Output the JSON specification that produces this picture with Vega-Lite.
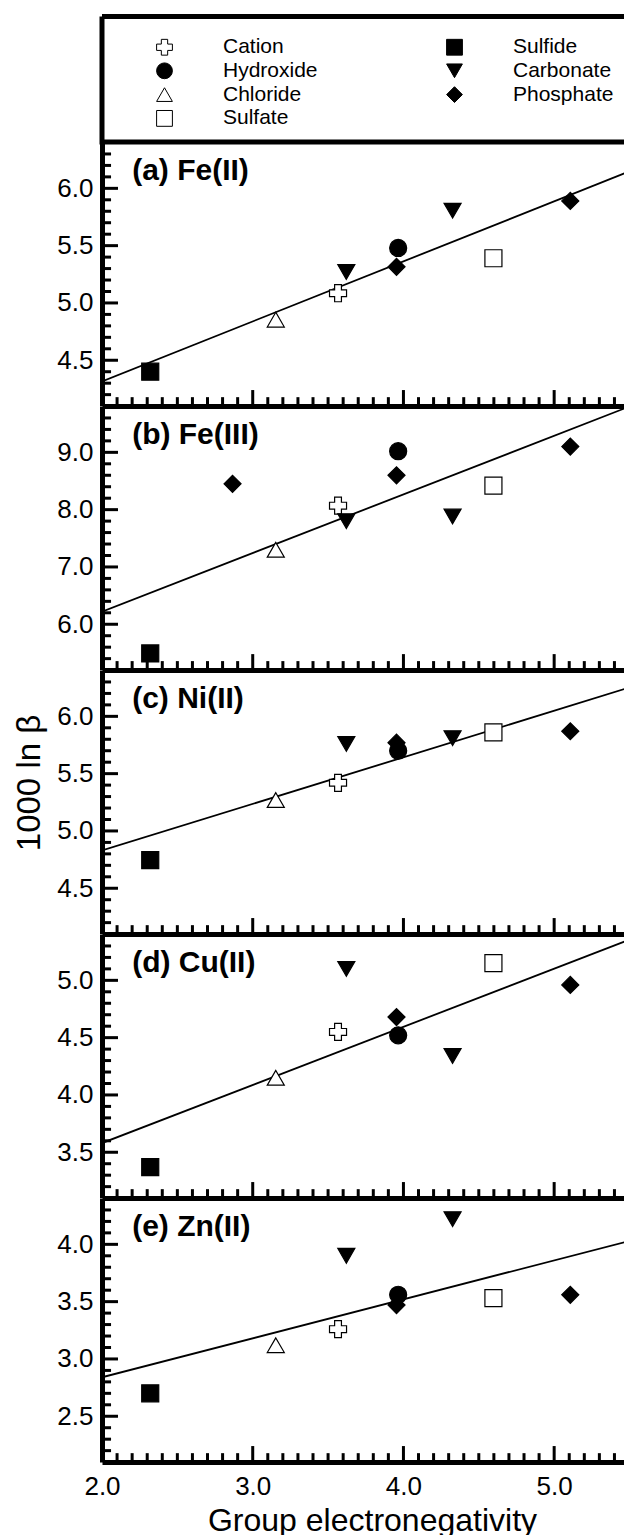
{
  "$schema": "https://vega.github.io/schema/vega-lite/v6.json",
  "background": "white",
  "padding": {"left": 13, "top": 13.5, "right": 0, "bottom": 0},
  "config": {
    "font": "Liberation Sans",
    "view": {"stroke": null},
    "axis": {"domainColor": "black", "domainWidth": 5, "ticks": false, "labelColor": "black", "labelFont": "Liberation Sans", "labelFontSize": 26, "titleFont": "Liberation Sans", "titleFontSize": 30, "titleFontWeight": "normal", "titleColor": "black", "grid": false, "labelOverlap": false, "labelFlush": false}
  },
  "datasets": {
    "pts": [
      {"p": "a", "type": "Sulfide", "en": 2.32, "val": 4.40},
      {"p": "a", "type": "Chloride", "en": 3.153, "val": 4.854},
      {"p": "a", "type": "Cation", "en": 3.566, "val": 5.085},
      {"p": "a", "type": "Carbonate", "en": 3.621, "val": 5.27},
      {"p": "a", "type": "Hydroxide", "en": 3.965, "val": 5.48},
      {"p": "a", "type": "Phosphate", "en": 3.954, "val": 5.315},
      {"p": "a", "type": "Carbonate", "en": 4.326, "val": 5.805},
      {"p": "a", "type": "Sulfate", "en": 4.597, "val": 5.39},
      {"p": "a", "type": "Phosphate", "en": 5.107, "val": 5.89},
      {"p": "b", "type": "Sulfide", "en": 2.32, "val": 5.49},
      {"p": "b", "type": "Phosphate", "en": 2.866, "val": 8.45},
      {"p": "b", "type": "Chloride", "en": 3.153, "val": 7.3},
      {"p": "b", "type": "Cation", "en": 3.566, "val": 8.07},
      {"p": "b", "type": "Carbonate", "en": 3.621, "val": 7.8},
      {"p": "b", "type": "Hydroxide", "en": 3.965, "val": 9.02},
      {"p": "b", "type": "Phosphate", "en": 3.954, "val": 8.6},
      {"p": "b", "type": "Carbonate", "en": 4.326, "val": 7.88},
      {"p": "b", "type": "Sulfate", "en": 4.597, "val": 8.42},
      {"p": "b", "type": "Phosphate", "en": 5.107, "val": 9.1},
      {"p": "c", "type": "Sulfide", "en": 2.32, "val": 4.745},
      {"p": "c", "type": "Chloride", "en": 3.153, "val": 5.27},
      {"p": "c", "type": "Cation", "en": 3.566, "val": 5.42},
      {"p": "c", "type": "Carbonate", "en": 3.621, "val": 5.76},
      {"p": "c", "type": "Hydroxide", "en": 3.965, "val": 5.70},
      {"p": "c", "type": "Phosphate", "en": 3.954, "val": 5.77},
      {"p": "c", "type": "Carbonate", "en": 4.326, "val": 5.81},
      {"p": "c", "type": "Sulfate", "en": 4.597, "val": 5.86},
      {"p": "c", "type": "Phosphate", "en": 5.107, "val": 5.87},
      {"p": "d", "type": "Sulfide", "en": 2.32, "val": 3.37},
      {"p": "d", "type": "Chloride", "en": 3.153, "val": 4.15},
      {"p": "d", "type": "Cation", "en": 3.566, "val": 4.55},
      {"p": "d", "type": "Carbonate", "en": 3.621, "val": 5.1},
      {"p": "d", "type": "Hydroxide", "en": 3.965, "val": 4.52},
      {"p": "d", "type": "Phosphate", "en": 3.954, "val": 4.68},
      {"p": "d", "type": "Carbonate", "en": 4.326, "val": 4.34},
      {"p": "d", "type": "Sulfate", "en": 4.597, "val": 5.15},
      {"p": "d", "type": "Phosphate", "en": 5.107, "val": 4.96},
      {"p": "e", "type": "Sulfide", "en": 2.32, "val": 2.70},
      {"p": "e", "type": "Chloride", "en": 3.153, "val": 3.12},
      {"p": "e", "type": "Cation", "en": 3.566, "val": 3.26},
      {"p": "e", "type": "Carbonate", "en": 3.621, "val": 3.9},
      {"p": "e", "type": "Hydroxide", "en": 3.965, "val": 3.56},
      {"p": "e", "type": "Phosphate", "en": 3.954, "val": 3.47},
      {"p": "e", "type": "Carbonate", "en": 4.326, "val": 4.22},
      {"p": "e", "type": "Sulfate", "en": 4.597, "val": 3.53},
      {"p": "e", "type": "Phosphate", "en": 5.107, "val": 3.56}
    ],
    "fit": [
      {"p": "a", "en": 2.0, "val": 4.315}, {"p": "a", "en": 5.47, "val": 6.133},
      {"p": "b", "en": 2.0, "val": 6.22}, {"p": "b", "en": 5.47, "val": 9.77},
      {"p": "c", "en": 2.0, "val": 4.83}, {"p": "c", "en": 5.47, "val": 6.24},
      {"p": "d", "en": 2.0, "val": 3.58}, {"p": "d", "en": 5.47, "val": 5.34},
      {"p": "e", "en": 2.0, "val": 2.84}, {"p": "e", "en": 5.47, "val": 4.02}
    ],
    "xt": [
      {"v": 2.1, "major": false}, {"v": 2.2, "major": false}, {"v": 2.3, "major": false}, {"v": 2.4, "major": false}, {"v": 2.5, "major": false}, {"v": 2.6, "major": false}, {"v": 2.7, "major": false}, {"v": 2.8, "major": false}, {"v": 2.9, "major": false},
      {"v": 3.0, "major": true}, {"v": 3.1, "major": false}, {"v": 3.2, "major": false}, {"v": 3.3, "major": false}, {"v": 3.4, "major": false}, {"v": 3.5, "major": false}, {"v": 3.6, "major": false}, {"v": 3.7, "major": false}, {"v": 3.8, "major": false}, {"v": 3.9, "major": false},
      {"v": 4.0, "major": true}, {"v": 4.1, "major": false}, {"v": 4.2, "major": false}, {"v": 4.3, "major": false}, {"v": 4.4, "major": false}, {"v": 4.5, "major": false}, {"v": 4.6, "major": false}, {"v": 4.7, "major": false}, {"v": 4.8, "major": false}, {"v": 4.9, "major": false},
      {"v": 5.0, "major": true}, {"v": 5.1, "major": false}, {"v": 5.2, "major": false}, {"v": 5.3, "major": false}, {"v": 5.4, "major": false}
    ],
    "yt": [
      {"p": "a", "v": 4.2, "major": false}, {"p": "a", "v": 4.3, "major": false}, {"p": "a", "v": 4.4, "major": false}, {"p": "a", "v": 4.5, "major": true}, {"p": "a", "v": 4.6, "major": false}, {"p": "a", "v": 4.7, "major": false}, {"p": "a", "v": 4.8, "major": false}, {"p": "a", "v": 4.9, "major": false}, {"p": "a", "v": 5.0, "major": true}, {"p": "a", "v": 5.1, "major": false}, {"p": "a", "v": 5.2, "major": false}, {"p": "a", "v": 5.3, "major": false}, {"p": "a", "v": 5.4, "major": false}, {"p": "a", "v": 5.5, "major": true}, {"p": "a", "v": 5.6, "major": false}, {"p": "a", "v": 5.7, "major": false}, {"p": "a", "v": 5.8, "major": false}, {"p": "a", "v": 5.9, "major": false}, {"p": "a", "v": 6.0, "major": true}, {"p": "a", "v": 6.1, "major": false}, {"p": "a", "v": 6.2, "major": false}, {"p": "a", "v": 6.3, "major": false},
      {"p": "b", "v": 5.4, "major": false}, {"p": "b", "v": 5.6, "major": false}, {"p": "b", "v": 5.8, "major": false}, {"p": "b", "v": 6.0, "major": true}, {"p": "b", "v": 6.2, "major": false}, {"p": "b", "v": 6.4, "major": false}, {"p": "b", "v": 6.6, "major": false}, {"p": "b", "v": 6.8, "major": false}, {"p": "b", "v": 7.0, "major": true}, {"p": "b", "v": 7.2, "major": false}, {"p": "b", "v": 7.4, "major": false}, {"p": "b", "v": 7.6, "major": false}, {"p": "b", "v": 7.8, "major": false}, {"p": "b", "v": 8.0, "major": true}, {"p": "b", "v": 8.2, "major": false}, {"p": "b", "v": 8.4, "major": false}, {"p": "b", "v": 8.6, "major": false}, {"p": "b", "v": 8.8, "major": false}, {"p": "b", "v": 9.0, "major": true}, {"p": "b", "v": 9.2, "major": false}, {"p": "b", "v": 9.4, "major": false}, {"p": "b", "v": 9.6, "major": false},
      {"p": "c", "v": 4.2, "major": false}, {"p": "c", "v": 4.3, "major": false}, {"p": "c", "v": 4.4, "major": false}, {"p": "c", "v": 4.5, "major": true}, {"p": "c", "v": 4.6, "major": false}, {"p": "c", "v": 4.7, "major": false}, {"p": "c", "v": 4.8, "major": false}, {"p": "c", "v": 4.9, "major": false}, {"p": "c", "v": 5.0, "major": true}, {"p": "c", "v": 5.1, "major": false}, {"p": "c", "v": 5.2, "major": false}, {"p": "c", "v": 5.3, "major": false}, {"p": "c", "v": 5.4, "major": false}, {"p": "c", "v": 5.5, "major": true}, {"p": "c", "v": 5.6, "major": false}, {"p": "c", "v": 5.7, "major": false}, {"p": "c", "v": 5.8, "major": false}, {"p": "c", "v": 5.9, "major": false}, {"p": "c", "v": 6.0, "major": true}, {"p": "c", "v": 6.1, "major": false}, {"p": "c", "v": 6.2, "major": false}, {"p": "c", "v": 6.3, "major": false},
      {"p": "d", "v": 3.2, "major": false}, {"p": "d", "v": 3.3, "major": false}, {"p": "d", "v": 3.4, "major": false}, {"p": "d", "v": 3.5, "major": true}, {"p": "d", "v": 3.6, "major": false}, {"p": "d", "v": 3.7, "major": false}, {"p": "d", "v": 3.8, "major": false}, {"p": "d", "v": 3.9, "major": false}, {"p": "d", "v": 4.0, "major": true}, {"p": "d", "v": 4.1, "major": false}, {"p": "d", "v": 4.2, "major": false}, {"p": "d", "v": 4.3, "major": false}, {"p": "d", "v": 4.4, "major": false}, {"p": "d", "v": 4.5, "major": true}, {"p": "d", "v": 4.6, "major": false}, {"p": "d", "v": 4.7, "major": false}, {"p": "d", "v": 4.8, "major": false}, {"p": "d", "v": 4.9, "major": false}, {"p": "d", "v": 5.0, "major": true}, {"p": "d", "v": 5.1, "major": false}, {"p": "d", "v": 5.2, "major": false}, {"p": "d", "v": 5.3, "major": false},
      {"p": "e", "v": 2.2, "major": false}, {"p": "e", "v": 2.3, "major": false}, {"p": "e", "v": 2.4, "major": false}, {"p": "e", "v": 2.5, "major": true}, {"p": "e", "v": 2.6, "major": false}, {"p": "e", "v": 2.7, "major": false}, {"p": "e", "v": 2.8, "major": false}, {"p": "e", "v": 2.9, "major": false}, {"p": "e", "v": 3.0, "major": true}, {"p": "e", "v": 3.1, "major": false}, {"p": "e", "v": 3.2, "major": false}, {"p": "e", "v": 3.3, "major": false}, {"p": "e", "v": 3.4, "major": false}, {"p": "e", "v": 3.5, "major": true}, {"p": "e", "v": 3.6, "major": false}, {"p": "e", "v": 3.7, "major": false}, {"p": "e", "v": 3.8, "major": false}, {"p": "e", "v": 3.9, "major": false}, {"p": "e", "v": 4.0, "major": true}, {"p": "e", "v": 4.1, "major": false}, {"p": "e", "v": 4.2, "major": false}, {"p": "e", "v": 4.3, "major": false}
    ]
  },
  "spacing": 0,
  "bounds": "flush",
  "resolve": {"scale": {"x": "independent", "y": "independent", "shape": "independent", "fill": "independent", "stroke": "independent"}, "legend": {"shape": "independent", "fill": "independent", "stroke": "independent"}},
  "vconcat": [
    {
      "width": 523, "height": 125.4,
      "view": {"stroke": "black", "strokeWidth": 5, "strokeDash": [523, 125.4, 648.4, 0]},
      "data": {"values": [{}]},
      "mark": {"type": "text", "text": ""},
      "encoding": {}
    },
    {
      "width": 523, "height": 263.6,
      "layer": [
        {"data": {"name": "fit"}, "transform": [{"filter": "datum.p == 'a'"}],
         "mark": {"type": "line", "color": "black", "strokeWidth": 1.8, "clip": true},
         "encoding": {
           "x": {"field": "en", "type": "quantitative", "scale": {"domain": [2, 5.47], "nice": false, "zero": false},
                 "axis": {"values": [2, 3, 4, 5], "labels": false, "title": null}},
           "y": {"field": "val", "type": "quantitative", "scale": {"domain": [4.1, 6.4], "nice": false, "zero": false},
                 "axis": {"values": [4.5, 5, 5.5, 6], "format": ".1f", "title": null, "labelPadding": 9}}
         }},
        {"data": {"name": "yt"}, "transform": [{"filter": "datum.p == 'a' && datum.major"}],
         "mark": {"type": "rule", "strokeWidth": 3, "color": "black", "opacity": 1},
         "encoding": {"y": {"field": "v", "type": "quantitative"}, "x": {"datum": 2.0}, "x2": {"datum": 2.106}}},
        {"data": {"name": "yt"}, "transform": [{"filter": "datum.p == 'a' && !datum.major"}],
         "mark": {"type": "rule", "strokeWidth": 3, "color": "black", "opacity": 1},
         "encoding": {"y": {"field": "v", "type": "quantitative"}, "x": {"datum": 2.0}, "x2": {"datum": 2.06}}},
        {"data": {"name": "xt"}, "transform": [{"filter": "datum.major"}],
         "mark": {"type": "rule", "strokeWidth": 3, "color": "black", "opacity": 1},
         "encoding": {"x": {"field": "v", "type": "quantitative"}, "y": {"datum": 4.1}, "y2": {"datum": 4.24}}},
        {"data": {"name": "xt"}, "transform": [{"filter": "!datum.major"}],
         "mark": {"type": "rule", "strokeWidth": 3, "color": "black", "opacity": 1},
         "encoding": {"x": {"field": "v", "type": "quantitative"}, "y": {"datum": 4.1}, "y2": {"datum": 4.178}}},
        {"data": {"name": "pts"}, "transform": [{"filter": "datum.p == 'a'"}],
         "mark": {"type": "point", "filled": true, "strokeWidth": 1.2, "size": 290, "opacity": 1},
         "encoding": {
           "x": {"field": "en", "type": "quantitative"},
           "y": {"field": "val", "type": "quantitative"},
           "shape": {"field": "type", "type": "nominal",
                     "scale": {"domain": ["Cation", "Hydroxide", "Chloride", "Sulfate", "Sulfide", "Carbonate", "Phosphate"], "range": ["cross", "circle", "triangle-up", "square", "square", "triangle-down", "diamond"]},
                     "legend": {"orient": "none", "legendX": 52, "legendY": -106, "columns": 2, "title": null, "symbolSize": 250, "labelFontSize": 21, "labelFont": "Liberation Sans", "labelColor": "black", "labelOffset": 48, "columnPadding": 126, "rowPadding": 1.8, "symbolStrokeWidth": 1, "padding": 0}},
           "fill": {"field": "type", "type": "nominal",
                    "scale": {"domain": ["Cation", "Hydroxide", "Chloride", "Sulfate", "Sulfide", "Carbonate", "Phosphate"], "range": ["white", "black", "white", "white", "black", "black", "black"]},
                    "legend": {"orient": "none", "legendX": 52, "legendY": -106, "columns": 2, "title": null, "symbolSize": 250, "labelFontSize": 21, "labelFont": "Liberation Sans", "labelColor": "black", "labelOffset": 48, "columnPadding": 126, "rowPadding": 1.8, "symbolStrokeWidth": 1, "padding": 0}},
           "stroke": {"field": "type", "type": "nominal",
                    "scale": {"domain": ["Cation", "Hydroxide", "Chloride", "Sulfate", "Sulfide", "Carbonate", "Phosphate"], "range": ["black", "black", "black", "black", "black", "black", "black"]},
                    "legend": {"orient": "none", "legendX": 52, "legendY": -106, "columns": 2, "title": null, "symbolSize": 250, "labelFontSize": 21, "labelFont": "Liberation Sans", "labelColor": "black", "labelOffset": 48, "columnPadding": 126, "rowPadding": 1.8, "symbolStrokeWidth": 1, "padding": 0}}
         }},
        {"data": {"values": [{"label": "(a) Fe(II)"}]},
         "mark": {"type": "text", "font": "Liberation Sans", "fontSize": 30, "fontWeight": "bold", "align": "left", "baseline": "middle", "color": "black"},
         "encoding": {"text": {"field": "label"}, "x": {"datum": 2.2}, "y": {"datum": 6.155}}}
      ]
    },
    {
      "width": 523, "height": 263.6,
      "layer": [
        {"data": {"name": "fit"}, "transform": [{"filter": "datum.p == 'b'"}],
         "mark": {"type": "line", "color": "black", "strokeWidth": 1.8, "clip": true},
         "encoding": {
           "x": {"field": "en", "type": "quantitative", "scale": {"domain": [2, 5.47], "nice": false, "zero": false},
                 "axis": {"values": [2, 3, 4, 5], "labels": false, "title": null}},
           "y": {"field": "val", "type": "quantitative", "scale": {"domain": [5.2, 9.8], "nice": false, "zero": false},
                 "axis": {"values": [6, 7, 8, 9], "format": ".1f", "title": null, "labelPadding": 9}}
         }},
        {"data": {"name": "yt"}, "transform": [{"filter": "datum.p == 'b' && datum.major"}],
         "mark": {"type": "rule", "strokeWidth": 3, "color": "black", "opacity": 1},
         "encoding": {"y": {"field": "v", "type": "quantitative"}, "x": {"datum": 2.0}, "x2": {"datum": 2.106}}},
        {"data": {"name": "yt"}, "transform": [{"filter": "datum.p == 'b' && !datum.major"}],
         "mark": {"type": "rule", "strokeWidth": 3, "color": "black", "opacity": 1},
         "encoding": {"y": {"field": "v", "type": "quantitative"}, "x": {"datum": 2.0}, "x2": {"datum": 2.06}}},
        {"data": {"name": "xt"}, "transform": [{"filter": "datum.major"}],
         "mark": {"type": "rule", "strokeWidth": 3, "color": "black", "opacity": 1},
         "encoding": {"x": {"field": "v", "type": "quantitative"}, "y": {"datum": 5.2}, "y2": {"datum": 5.479}}},
        {"data": {"name": "xt"}, "transform": [{"filter": "!datum.major"}],
         "mark": {"type": "rule", "strokeWidth": 3, "color": "black", "opacity": 1},
         "encoding": {"x": {"field": "v", "type": "quantitative"}, "y": {"datum": 5.2}, "y2": {"datum": 5.357}}},
        {"data": {"name": "pts"}, "transform": [{"filter": "datum.p == 'b'"}],
         "mark": {"type": "point", "filled": true, "stroke": "black", "strokeWidth": 1.2, "size": 290, "opacity": 1},
         "encoding": {
           "x": {"field": "en", "type": "quantitative"},
           "y": {"field": "val", "type": "quantitative"},
           "shape": {"field": "type", "type": "nominal", "legend": null,
                     "scale": {"domain": ["Cation", "Hydroxide", "Chloride", "Sulfate", "Sulfide", "Carbonate", "Phosphate"], "range": ["cross", "circle", "triangle-up", "square", "square", "triangle-down", "diamond"]}},
           "fill": {"field": "type", "type": "nominal", "legend": null,
                    "scale": {"domain": ["Cation", "Hydroxide", "Chloride", "Sulfate", "Sulfide", "Carbonate", "Phosphate"], "range": ["white", "black", "white", "white", "black", "black", "black"]}}
         }},
        {"data": {"values": [{"label": "(b) Fe(III)"}]},
         "mark": {"type": "text", "font": "Liberation Sans", "fontSize": 30, "fontWeight": "bold", "align": "left", "baseline": "middle", "color": "black"},
         "encoding": {"text": {"field": "label"}, "x": {"datum": 2.2}, "y": {"datum": 9.31}}}
      ]
    },
    {
      "width": 523, "height": 263.6,
      "layer": [
        {"data": {"name": "fit"}, "transform": [{"filter": "datum.p == 'c'"}],
         "mark": {"type": "line", "color": "black", "strokeWidth": 1.8, "clip": true},
         "encoding": {
           "x": {"field": "en", "type": "quantitative", "scale": {"domain": [2, 5.47], "nice": false, "zero": false},
                 "axis": {"values": [2, 3, 4, 5], "labels": false, "title": null}},
           "y": {"field": "val", "type": "quantitative", "scale": {"domain": [4.1, 6.4], "nice": false, "zero": false},
                 "axis": {"values": [4.5, 5, 5.5, 6], "format": ".1f", "labelPadding": 9,
                          "title": "1000 ln β", "titleX": -63, "titleY": 112, "titleBaseline": "alphabetic", "titleAngle": 270, "titleFontSize": 33}}
         }},
        {"data": {"name": "yt"}, "transform": [{"filter": "datum.p == 'c' && datum.major"}],
         "mark": {"type": "rule", "strokeWidth": 3, "color": "black", "opacity": 1},
         "encoding": {"y": {"field": "v", "type": "quantitative"}, "x": {"datum": 2.0}, "x2": {"datum": 2.106}}},
        {"data": {"name": "yt"}, "transform": [{"filter": "datum.p == 'c' && !datum.major"}],
         "mark": {"type": "rule", "strokeWidth": 3, "color": "black", "opacity": 1},
         "encoding": {"y": {"field": "v", "type": "quantitative"}, "x": {"datum": 2.0}, "x2": {"datum": 2.06}}},
        {"data": {"name": "xt"}, "transform": [{"filter": "datum.major"}],
         "mark": {"type": "rule", "strokeWidth": 3, "color": "black", "opacity": 1},
         "encoding": {"x": {"field": "v", "type": "quantitative"}, "y": {"datum": 4.1}, "y2": {"datum": 4.24}}},
        {"data": {"name": "xt"}, "transform": [{"filter": "!datum.major"}],
         "mark": {"type": "rule", "strokeWidth": 3, "color": "black", "opacity": 1},
         "encoding": {"x": {"field": "v", "type": "quantitative"}, "y": {"datum": 4.1}, "y2": {"datum": 4.178}}},
        {"data": {"name": "pts"}, "transform": [{"filter": "datum.p == 'c'"}],
         "mark": {"type": "point", "filled": true, "stroke": "black", "strokeWidth": 1.2, "size": 290, "opacity": 1},
         "encoding": {
           "x": {"field": "en", "type": "quantitative"},
           "y": {"field": "val", "type": "quantitative"},
           "shape": {"field": "type", "type": "nominal", "legend": null,
                     "scale": {"domain": ["Cation", "Hydroxide", "Chloride", "Sulfate", "Sulfide", "Carbonate", "Phosphate"], "range": ["cross", "circle", "triangle-up", "square", "square", "triangle-down", "diamond"]}},
           "fill": {"field": "type", "type": "nominal", "legend": null,
                    "scale": {"domain": ["Cation", "Hydroxide", "Chloride", "Sulfate", "Sulfide", "Carbonate", "Phosphate"], "range": ["white", "black", "white", "white", "black", "black", "black"]}}
         }},
        {"data": {"values": [{"label": "(c) Ni(II)"}]},
         "mark": {"type": "text", "font": "Liberation Sans", "fontSize": 30, "fontWeight": "bold", "align": "left", "baseline": "middle", "color": "black"},
         "encoding": {"text": {"field": "label"}, "x": {"datum": 2.2}, "y": {"datum": 6.155}}}
      ]
    },
    {
      "width": 523, "height": 263.6,
      "layer": [
        {"data": {"name": "fit"}, "transform": [{"filter": "datum.p == 'd'"}],
         "mark": {"type": "line", "color": "black", "strokeWidth": 1.8, "clip": true},
         "encoding": {
           "x": {"field": "en", "type": "quantitative", "scale": {"domain": [2, 5.47], "nice": false, "zero": false},
                 "axis": {"values": [2, 3, 4, 5], "labels": false, "title": null}},
           "y": {"field": "val", "type": "quantitative", "scale": {"domain": [3.1, 5.4], "nice": false, "zero": false},
                 "axis": {"values": [3.5, 4, 4.5, 5], "format": ".1f", "title": null, "labelPadding": 9}}
         }},
        {"data": {"name": "yt"}, "transform": [{"filter": "datum.p == 'd' && datum.major"}],
         "mark": {"type": "rule", "strokeWidth": 3, "color": "black", "opacity": 1},
         "encoding": {"y": {"field": "v", "type": "quantitative"}, "x": {"datum": 2.0}, "x2": {"datum": 2.106}}},
        {"data": {"name": "yt"}, "transform": [{"filter": "datum.p == 'd' && !datum.major"}],
         "mark": {"type": "rule", "strokeWidth": 3, "color": "black", "opacity": 1},
         "encoding": {"y": {"field": "v", "type": "quantitative"}, "x": {"datum": 2.0}, "x2": {"datum": 2.06}}},
        {"data": {"name": "xt"}, "transform": [{"filter": "datum.major"}],
         "mark": {"type": "rule", "strokeWidth": 3, "color": "black", "opacity": 1},
         "encoding": {"x": {"field": "v", "type": "quantitative"}, "y": {"datum": 3.1}, "y2": {"datum": 3.24}}},
        {"data": {"name": "xt"}, "transform": [{"filter": "!datum.major"}],
         "mark": {"type": "rule", "strokeWidth": 3, "color": "black", "opacity": 1},
         "encoding": {"x": {"field": "v", "type": "quantitative"}, "y": {"datum": 3.1}, "y2": {"datum": 3.178}}},
        {"data": {"name": "pts"}, "transform": [{"filter": "datum.p == 'd'"}],
         "mark": {"type": "point", "filled": true, "stroke": "black", "strokeWidth": 1.2, "size": 290, "opacity": 1},
         "encoding": {
           "x": {"field": "en", "type": "quantitative"},
           "y": {"field": "val", "type": "quantitative"},
           "shape": {"field": "type", "type": "nominal", "legend": null,
                     "scale": {"domain": ["Cation", "Hydroxide", "Chloride", "Sulfate", "Sulfide", "Carbonate", "Phosphate"], "range": ["cross", "circle", "triangle-up", "square", "square", "triangle-down", "diamond"]}},
           "fill": {"field": "type", "type": "nominal", "legend": null,
                    "scale": {"domain": ["Cation", "Hydroxide", "Chloride", "Sulfate", "Sulfide", "Carbonate", "Phosphate"], "range": ["white", "black", "white", "white", "black", "black", "black"]}}
         }},
        {"data": {"values": [{"label": "(d) Cu(II)"}]},
         "mark": {"type": "text", "font": "Liberation Sans", "fontSize": 30, "fontWeight": "bold", "align": "left", "baseline": "middle", "color": "black"},
         "encoding": {"text": {"field": "label"}, "x": {"datum": 2.2}, "y": {"datum": 5.155}}}
      ]
    },
    {
      "width": 523, "height": 263.6,
      "layer": [
        {"data": {"name": "fit"}, "transform": [{"filter": "datum.p == 'e'"}],
         "mark": {"type": "line", "color": "black", "strokeWidth": 1.8, "clip": true},
         "encoding": {
           "x": {"field": "en", "type": "quantitative", "scale": {"domain": [2, 5.47], "nice": false, "zero": false},
                 "axis": {"values": [2, 3, 4, 5], "format": ".1f", "labelPadding": 11,
                          "title": "Group electronegativity", "titleX": 270, "titleY": 68, "titleBaseline": "alphabetic", "titleFontSize": 32}},
           "y": {"field": "val", "type": "quantitative", "scale": {"domain": [2.1, 4.4], "nice": false, "zero": false},
                 "axis": {"values": [2.5, 3, 3.5, 4], "format": ".1f", "title": null, "labelPadding": 9}}
         }},
        {"data": {"name": "yt"}, "transform": [{"filter": "datum.p == 'e' && datum.major"}],
         "mark": {"type": "rule", "strokeWidth": 3, "color": "black", "opacity": 1},
         "encoding": {"y": {"field": "v", "type": "quantitative"}, "x": {"datum": 2.0}, "x2": {"datum": 2.106}}},
        {"data": {"name": "yt"}, "transform": [{"filter": "datum.p == 'e' && !datum.major"}],
         "mark": {"type": "rule", "strokeWidth": 3, "color": "black", "opacity": 1},
         "encoding": {"y": {"field": "v", "type": "quantitative"}, "x": {"datum": 2.0}, "x2": {"datum": 2.06}}},
        {"data": {"name": "xt"}, "transform": [{"filter": "datum.major"}],
         "mark": {"type": "rule", "strokeWidth": 3, "color": "black", "opacity": 1},
         "encoding": {"x": {"field": "v", "type": "quantitative"}, "y": {"datum": 2.1}, "y2": {"datum": 2.24}}},
        {"data": {"name": "xt"}, "transform": [{"filter": "!datum.major"}],
         "mark": {"type": "rule", "strokeWidth": 3, "color": "black", "opacity": 1},
         "encoding": {"x": {"field": "v", "type": "quantitative"}, "y": {"datum": 2.1}, "y2": {"datum": 2.178}}},
        {"data": {"name": "pts"}, "transform": [{"filter": "datum.p == 'e'"}],
         "mark": {"type": "point", "filled": true, "stroke": "black", "strokeWidth": 1.2, "size": 290, "opacity": 1},
         "encoding": {
           "x": {"field": "en", "type": "quantitative"},
           "y": {"field": "val", "type": "quantitative"},
           "shape": {"field": "type", "type": "nominal", "legend": null,
                     "scale": {"domain": ["Cation", "Hydroxide", "Chloride", "Sulfate", "Sulfide", "Carbonate", "Phosphate"], "range": ["cross", "circle", "triangle-up", "square", "square", "triangle-down", "diamond"]}},
           "fill": {"field": "type", "type": "nominal", "legend": null,
                    "scale": {"domain": ["Cation", "Hydroxide", "Chloride", "Sulfate", "Sulfide", "Carbonate", "Phosphate"], "range": ["white", "black", "white", "white", "black", "black", "black"]}}
         }},
        {"data": {"values": [{"label": "(e) Zn(II)"}]},
         "mark": {"type": "text", "font": "Liberation Sans", "fontSize": 30, "fontWeight": "bold", "align": "left", "baseline": "middle", "color": "black"},
         "encoding": {"text": {"field": "label"}, "x": {"datum": 2.2}, "y": {"datum": 4.155}}}
      ]
    }
  ]
}
